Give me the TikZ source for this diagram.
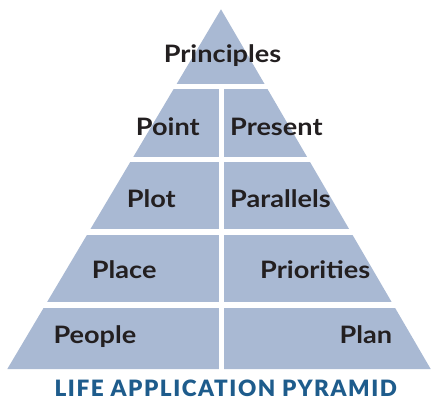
\documentclass[tikz,border=0pt]{standalone}
\usepackage{fontspec}
\setmainfont{Lato}
\newfontfamily\lblfont[FakeStretch=1.13]{Lato Bold}
\newfontfamily\titlefont[LetterSpace=7]{Lato Black}
\definecolor{pyrfill}{HTML}{A9B9D3}
\definecolor{pyrtext}{HTML}{231F20}
\definecolor{titleblue}{HTML}{1E5C8C}
\begin{document}
\begin{tikzpicture}[x=1pt,y=-1pt,
  lbl/.style={text=pyrtext,font=\fontsize{24}{24}\lblfont,inner sep=0pt},
  gap/.style={draw=white,line width=5.4pt}]
\useasboundingbox (0,0) rectangle (431,400);
\fill[pyrfill] (221,9.3) -- (430.7,369) -- (7.3,369) -- cycle;
\foreach \y in {86.65,159.5,232.15,305} \draw[gap] (0,\y) -- (431,\y);
\draw[gap] (221.5,86) -- (221.5,370);
\node[lbl,anchor=base] (principles) at (222.5,62) {Principles};
\node[lbl,anchor=base east] (point) at (200,135) {Point};
\node[lbl,anchor=base west] (present) at (230,135) {Present};
\node[lbl,anchor=base west] (plot) at (126.7,207) {Plot};
\node[lbl,anchor=base west] (parallels) at (230,207) {Parallels};
\node[lbl,anchor=base west] (place) at (91.7,278) {Place};
\node[lbl,anchor=base west] (priorities) at (260,278) {Priorities};
\node[lbl,anchor=base west] (people) at (53.3,343.3) {People};
\node[lbl,anchor=base east] (plan) at (392.3,343.3) {Plan};
\node[text=titleblue,font=\fontsize{22.5}{22.5}\titlefont,inner sep=0pt,anchor=base] (title) at (225.8,396.5) {LIFE APPLICATION PYRAMID};
\end{tikzpicture}
\end{document}
